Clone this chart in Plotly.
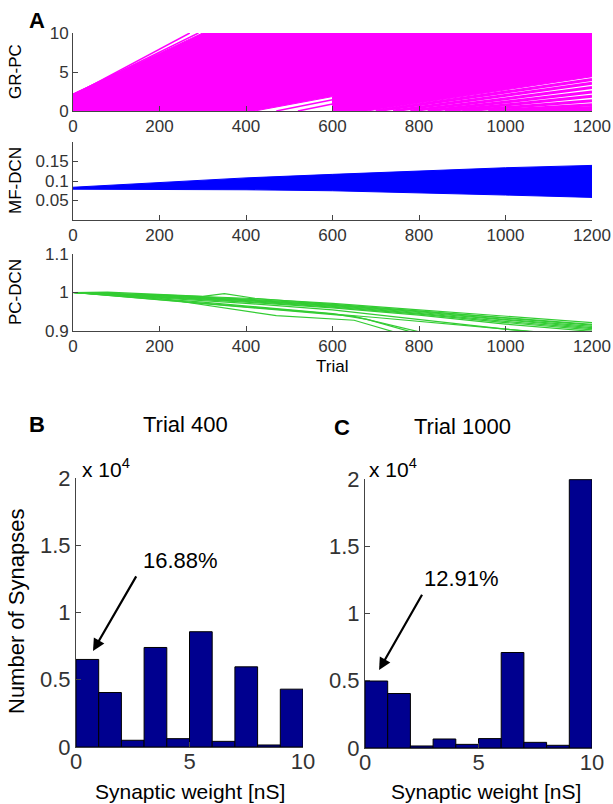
import plotly.graph_objects as go

W, H = 613, 804

# ---------------- data ----------------
trial_ticks = [0, 200, 400, 600, 800, 1000, 1200]

# GR-PC: envelope of the dense bundle of weight trajectories
gr_body_x = [0, 0, 300, 1200, 1200, 680, 600, 600, 420, 0]
gr_body_y = [0, 2.2, 10, 10, 4.4, 0, 0, 1.85, 0, 0]
# individual visible trajectories (thin)
gr_thin_lines = [
    ([0, 270], [2.0, 10]),
    ([0, 290], [2.1, 10]),
    ([470, 600], [0.0, 1.45]),
    ([520, 600], [0.0, 0.9]),
]
# trajectories in the lower right (start trial at weight 0, end value at trial 1200)
gr_band_x0 = [700, 740, 780, 820, 860, 900, 960, 1000, 1040]
gr_band_y1 = [4.05, 3.55, 3.0, 2.45, 1.9, 1.3, 0.8, 0.45, 0.15]

# MF-DCN: envelope of the weight bundle
mf_x = [0, 200, 400, 600, 800, 1000, 1200]
mf_upper = [0.084, 0.096, 0.108, 0.117, 0.125, 0.134, 0.140]
mf_lower = [0.079, 0.078, 0.0775, 0.075, 0.069, 0.064, 0.058]

# PC-DCN: individual weight trajectories
pc_x = [0, 200, 400, 600, 800, 1000, 1200]
pc_lines = [
    [1.000, 0.994, 0.985, 0.972, 0.955, 0.938, 0.922],
    [1.000, 0.993, 0.983, 0.969, 0.952, 0.933, 0.915],
    [1.000, 0.992, 0.981, 0.967, 0.950, 0.930, 0.912],
    [1.000, 0.991, 0.980, 0.966, 0.948, 0.928, 0.909],
    [1.000, 0.990, 0.979, 0.964, 0.946, 0.925, 0.906],
    [1.000, 0.989, 0.977, 0.962, 0.944, 0.922, 0.903],
    [1.000, 0.988, 0.975, 0.960, 0.941, 0.918, 0.899],
    [1.000, 0.986, 0.972, 0.955, 0.930, 0.905, 0.885],
]
pc_extra = [
    ([0, 80, 300, 350, 420, 700, 1200], [1.000, 1.001, 0.990, 0.997, 0.985, 0.960, 0.917]),
    ([0, 200, 470, 650, 750], [1.000, 0.985, 0.940, 0.928, 0.895]),
    ([0, 300, 600, 680, 790], [1.000, 0.975, 0.945, 0.930, 0.895]),
    ([0, 400, 650, 800], [1.000, 0.962, 0.938, 0.898]),
    ([0, 700, 1000, 1060], [1.000, 0.935, 0.905, 0.898]),
]

# Histograms
bin_centers = [0.5, 1.5, 2.5, 3.5, 4.5, 5.5, 6.5, 7.5, 8.5, 9.5]
counts_400 = [6510, 4050, 500, 7400, 620, 8570, 420, 5960, 150, 4300]
counts_1000 = [4980, 4050, 150, 670, 270, 700, 7100, 420, 200, 19950]
hist_yticks = [0, 5000, 10000, 15000, 20000]
hist_yticktext = ['0', '0.5', '1', '1.5', '2']

# ---------------- styles ----------------
MAGENTA = '#ff00ff'
BLUE = '#0000ff'
GREEN = '#33cc33'
NAVY = '#00008f'
AX = '#444444'
FONT = 'Liberation Sans, Arial, sans-serif'


def pxx(x):
    return x / W


def pxy(y):
    return 1 - y / H


fig = go.Figure()

# GR-PC
fig.add_trace(go.Scatter(x=gr_body_x, y=gr_body_y, fill='toself', fillcolor=MAGENTA,
                         mode='lines', line=dict(color=MAGENTA, width=1),
                         xaxis='x', yaxis='y', hoverinfo='skip'))
for xs, ys in gr_thin_lines:
    fig.add_trace(go.Scatter(x=xs, y=ys, mode='lines', line=dict(color=MAGENTA, width=1.5),
                             xaxis='x', yaxis='y', hoverinfo='skip'))
for x0, y1 in zip(gr_band_x0, gr_band_y1):
    fig.add_trace(go.Scatter(x=[x0, 1200], y=[0, y1], mode='lines', line=dict(color=MAGENTA, width=3),
                             xaxis='x', yaxis='y', hoverinfo='skip'))

# MF-DCN
fig.add_trace(go.Scatter(x=mf_x + mf_x[::-1], y=mf_upper + mf_lower[::-1], fill='toself',
                         fillcolor=BLUE, mode='lines', line=dict(color=BLUE, width=1),
                         xaxis='x2', yaxis='y2', hoverinfo='skip'))

# PC-DCN
for ys in pc_lines:
    fig.add_trace(go.Scatter(x=pc_x, y=ys, mode='lines', line=dict(color=GREEN, width=1.2),
                             xaxis='x3', yaxis='y3', hoverinfo='skip'))
for xs, ys in pc_extra:
    fig.add_trace(go.Scatter(x=xs, y=ys, mode='lines', line=dict(color=GREEN, width=1.2),
                             xaxis='x3', yaxis='y3', hoverinfo='skip'))

# Histograms
fig.add_trace(go.Bar(x=bin_centers, y=counts_400, width=1, marker=dict(color=NAVY, line=dict(color='black', width=1)),
                     xaxis='x4', yaxis='y4', hoverinfo='skip'))
fig.add_trace(go.Bar(x=bin_centers, y=counts_1000, width=1, marker=dict(color=NAVY, line=dict(color='black', width=1)),
                     xaxis='x5', yaxis='y5', hoverinfo='skip'))


def axis(domain, rng, tickvals, anchor, size=17, ticktext=None, standoff=0):
    d = dict(domain=domain, range=rng, tickvals=tickvals, anchor=anchor,
             showline=True, linecolor=AX, linewidth=1, mirror=False,
             ticks='inside', ticklen=5, tickcolor=AX, tickwidth=1,
             showgrid=False, zeroline=False, automargin=False,
             ticklabelstandoff=standoff,
             tickfont=dict(family=FONT, size=size, color='#333'))
    if ticktext is not None:
        d['ticktext'] = ticktext
    return d


xa_dom = [pxx(73), pxx(592)]
layout = dict(
    width=W, height=H, margin=dict(l=0, r=0, t=0, b=0),
    paper_bgcolor='white', plot_bgcolor='white', showlegend=False,
    bargap=0,
    xaxis=axis(xa_dom, [0, 1200], trial_ticks, 'y'),
    yaxis=axis([pxy(111), pxy(33)], [0, 10], [0, 5, 10], 'x'),
    xaxis2=axis(xa_dom, [0, 1200], trial_ticks, 'y2'),
    yaxis2=axis([pxy(220), pxy(142)], [0, 0.2], [0.05, 0.1, 0.15], 'x2',
                ticktext=['0.05', '0.1', '0.15']),
    xaxis3=axis(xa_dom, [0, 1200], trial_ticks, 'y3'),
    yaxis3=axis([pxy(331), pxy(254)], [0.9, 1.1], [0.9, 1.0, 1.1], 'x3',
                ticktext=['0.9', '1', '1.1']),
    xaxis4=axis([pxx(76), pxx(303)], [0, 10], [0, 5, 10], 'y4', size=22, standoff=-5),
    yaxis4=axis([pxy(747), pxy(478)], [0, 20000], hist_yticks, 'x4', size=22, ticktext=hist_yticktext),
    xaxis5=axis([pxx(365), pxx(592)], [0, 10], [0, 5, 10], 'y5', size=22, standoff=-5),
    yaxis5=axis([pxy(748), pxy(479)], [0, 20000], hist_yticks, 'x5', size=22, ticktext=hist_yticktext),
)
fig.update_layout(**layout)


def text(x, y, s, size, bold=False, angle=0, xanchor='center'):
    fig.add_annotation(x=pxx(x), y=pxy(y), xref='paper', yref='paper', text=('<b>%s</b>' % s) if bold else s,
                       showarrow=False, textangle=angle, xanchor=xanchor, yanchor='middle',
                       font=dict(family=FONT, size=size, color='black'))


text(37, 20, 'A', 22, bold=True)
text(37, 425, 'B', 22, bold=True)
text(342, 427, 'C', 22, bold=True)
text(15, 72, 'GR-PC', 17, angle=-90)
text(15, 181, 'MF-DCN', 17, angle=-90)
text(15, 292, 'PC-DCN', 17, angle=-90)
text(332, 366, 'Trial', 17)
text(16, 612, 'Number of Synapses', 22, angle=-90)
text(190, 791, 'Synaptic weight [nS]', 21)
text(486, 791, 'Synaptic weight [nS]', 21)
text(185, 425, 'Trial 400', 22)
text(462, 426, 'Trial 1000', 22)
text(80, 468, 'x 10<sup>4</sup>', 21, xanchor='left')
text(367, 468, 'x 10<sup>4</sup>', 21, xanchor='left')

# arrows with percentages
fig.add_annotation(x=0.75, y=7140, ax=2.69, ay=12800, xref='x4', yref='y4', axref='x4', ayref='y4',
                   showarrow=True, arrowhead=2, arrowsize=1.1, arrowwidth=2.2, arrowcolor='black', text='')
fig.add_annotation(x=4.59, y=13900, xref='x4', yref='y4', text='16.88%', showarrow=False,
                   font=dict(family=FONT, size=22, color='black'))
fig.add_annotation(x=0.62, y=5800, ax=2.55, ay=11500, xref='x5', yref='y5', axref='x5', ayref='y5',
                   showarrow=True, arrowhead=2, arrowsize=1.1, arrowwidth=2.2, arrowcolor='black', text='')
fig.add_annotation(x=4.27, y=12600, xref='x5', yref='y5', text='12.91%', showarrow=False,
                   font=dict(family=FONT, size=22, color='black'))

fig.write_html('out.html', config={'displayModeBar': False, 'staticPlot': True},
               post_script="document.body.style.margin='0';document.body.style.overflow='hidden';")
